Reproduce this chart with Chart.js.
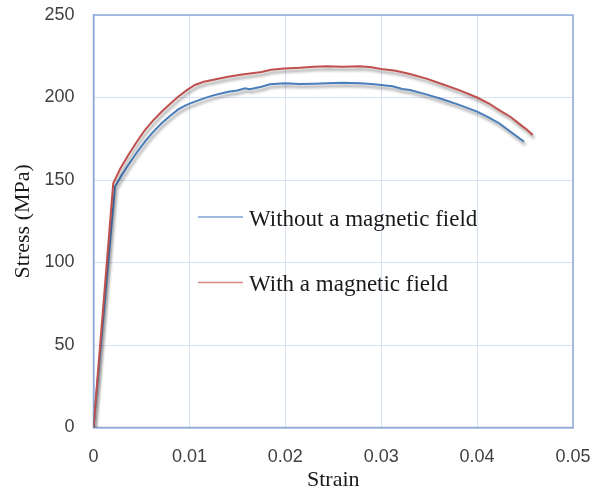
<!DOCTYPE html>
<html>
<head>
<meta charset="utf-8">
<script src="https://cdn.jsdelivr.net/npm/chart.js@4.4.0/dist/chart.umd.min.js"></script>
<style>
  html, body { margin: 0; padding: 0; background: #fff; }
  #wrap { width: 593px; height: 490px; }
</style>
</head>
<body>
<div id="wrap"><canvas id="chart"></canvas></div>
<script>
// series labels
const seriesNames = ["Without a magnetic field", "With a magnetic field"];

// without a magnetic field
const strainWithout = [0, 0.00224, 0.0029, 0.00363, 0.0045, 0.00536, 0.0062, 0.0071, 0.0080, 0.00883,
  0.0097, 0.01057, 0.0115, 0.0125, 0.01404, 0.0150, 0.0158, 0.0163, 0.01752, 0.0184,
  0.0199, 0.0215, 0.0230, 0.0243, 0.0260, 0.0278, 0.0290, 0.0300, 0.0312, 0.0322,
  0.0330, 0.0345, 0.0364, 0.0382, 0.0400, 0.0412, 0.0423, 0.0437, 0.0449];
const stressWithout = [0, 145.9, 152.5, 159.1, 166.5, 173.2, 179, 184.4, 189, 192.8,
  195.5, 197.5, 199.5, 201.3, 203.5, 204.2, 205.6, 205, 206.5, 208,
  208.6, 208.2, 208.4, 208.6, 208.9, 208.6, 208.2, 207.6, 206.8, 205.2,
  204.5, 202.2, 198.9, 195.4, 191.4, 188, 184.4, 178.3, 173.2];

// with a magnetic field
const strainWith = [0, 0.00206, 0.0028, 0.00363, 0.0045, 0.00536, 0.0062, 0.0071, 0.0080, 0.00883,
  0.0097, 0.01057, 0.0115, 0.0125, 0.01404, 0.0155, 0.01752, 0.0185, 0.0199, 0.0215,
  0.0230, 0.0243, 0.0260, 0.0278, 0.0290, 0.0300, 0.0315, 0.0330, 0.0348, 0.0364,
  0.0382, 0.0400, 0.0412, 0.0423, 0.0435, 0.0444, 0.0452, 0.0458];
const stressWith = [0, 148, 157, 165.2, 173, 180.3, 186, 191.4, 196.2, 200.5,
  204.3, 207.6, 209.5, 210.8, 212.6, 214, 215.5, 216.8, 217.6, 218,
  218.6, 218.9, 218.7, 219, 218.3, 217.3, 216.2, 214.2, 211.3, 208,
  204.3, 200, 196.5, 192.4, 188.2, 184, 180.5, 177.3];

// tick labels
const xTickLabels = ["0", "0.01", "0.02", "0.03", "0.04", "0.05"];
const yTickLabels = ["0", "50", "100", "150", "200", "250"];

const blue = "#4a7ebb";
const red = "#c0504d";

function toPoints(xs, ys) {
  const pts = [];
  for (let i = 0; i < xs.length; i++) {
    pts.push({ x: xs[i], y: ys[i] });
  }
  return pts;
}

// blue border round the plot area
const frame = {
  id: "frame",
  beforeDatasetsDraw(chart) {
    const a = chart.chartArea;
    const ctx = chart.ctx;
    ctx.save();
    ctx.strokeStyle = "#8eaadb";
    ctx.lineWidth = 1.5;
    ctx.strokeRect(a.left, a.top, a.right - a.left, a.bottom - a.top);
    ctx.restore();
  }
};

// soft drop shadow under the curves
const shadow = {
  id: "shadow",
  beforeDatasetDraw(chart) {
    const ctx = chart.ctx;
    ctx.save();
    ctx.shadowColor = "rgba(0,0,0,0.4)";
    ctx.shadowBlur = 3;
    ctx.shadowOffsetX = 1.5;
    ctx.shadowOffsetY = 3;
  },
  afterDatasetDraw(chart) {
    chart.ctx.restore();
  }
};

// legend drawn inside the plot
const innerLegend = {
  id: "innerLegend",
  afterDraw(chart) {
    const ctx = chart.ctx;
    const rows = [{ i: 0, y: 217 }, { i: 1, y: 282.5 }];
    ctx.save();
    ctx.font = "23px 'Liberation Serif'";
    ctx.textBaseline = "alphabetic";
    rows.forEach(r => {
      const ds = chart.data.datasets[r.i];
      ctx.strokeStyle = ds.legendColor;
      ctx.lineWidth = 1.5;
      ctx.beginPath();
      ctx.moveTo(198, r.y);
      ctx.lineTo(243, r.y);
      ctx.stroke();
      ctx.fillStyle = "#1a1a1a";
      ctx.fillText(ds.label, 249, r.y + 8.5);
    });
    ctx.restore();
  }
};

new Chart(document.getElementById("chart"), {
  type: "scatter",
  data: {
    datasets: [
      {
        label: seriesNames[0],
        data: toPoints(strainWithout, stressWithout),
        showLine: true,
        borderColor: blue,
        legendColor: "#7ea3d6",
        borderWidth: 2,
        pointRadius: 0,
        tension: 0,
        order: 2
      },
      {
        label: seriesNames[1],
        data: toPoints(strainWith, stressWith),
        showLine: true,
        borderColor: red,
        legendColor: "#d98a88",
        borderWidth: 2,
        pointRadius: 0,
        tension: 0,
        order: 1
      }
    ]
  },
  options: {
    responsive: true,
    maintainAspectRatio: false,
    animation: false,
    layout: { padding: { top: 15, right: 20, left: 0, bottom: 0 } },
    plugins: {
      legend: { display: false },
      tooltip: { enabled: false }
    },
    scales: {
      x: {
        type: "linear",
        min: 0,
        max: 0.05,
        afterFit(scale) { scale.height = 62.5; },
        afterBuildTicks(scale) {
          scale.ticks = xTickLabels.map(t => ({ value: parseFloat(t) }));
        },
        ticks: {
          callback: (v, i) => xTickLabels[i],
          font: { family: "'Liberation Sans'", size: 18 },
          color: "#404040",
          padding: 0,
          maxRotation: 0
        },
        grid: { color: "#d6e1f3", lineWidth: 1, drawTicks: true, tickLength: 19, tickColor: "rgba(0,0,0,0)" },
        border: { color: "#8eaadb", width: 1.5 },
        title: {
          display: true,
          text: "Strain",
          font: { family: "'Liberation Serif'", size: 22 },
          color: "#1a1a1a",
          padding: { top: -3, bottom: -3 }
        }
      },
      y: {
        min: 0,
        max: 250,
        afterFit(scale) { scale.width = 93.5; },
        afterBuildTicks(scale) {
          scale.ticks = yTickLabels.map(t => ({ value: parseFloat(t) }));
        },
        ticks: {
          callback: (v, i) => yTickLabels[i],
          font: { family: "'Liberation Sans'", size: 18 },
          color: "#404040",
          padding: 0
        },
        grid: { color: "#d6e1f3", lineWidth: 1, drawTicks: true, tickLength: 19, tickColor: "rgba(0,0,0,0)" },
        border: { color: "#8eaadb", width: 1.5 },
        title: {
          display: true,
          text: "Stress (MPa)",
          font: { family: "'Liberation Serif'", size: 22 },
          color: "#1a1a1a",
          padding: { top: 10, bottom: 0 }
        }
      }
    }
  },
  plugins: [frame, shadow, innerLegend]
});
</script>
</body>
</html>
